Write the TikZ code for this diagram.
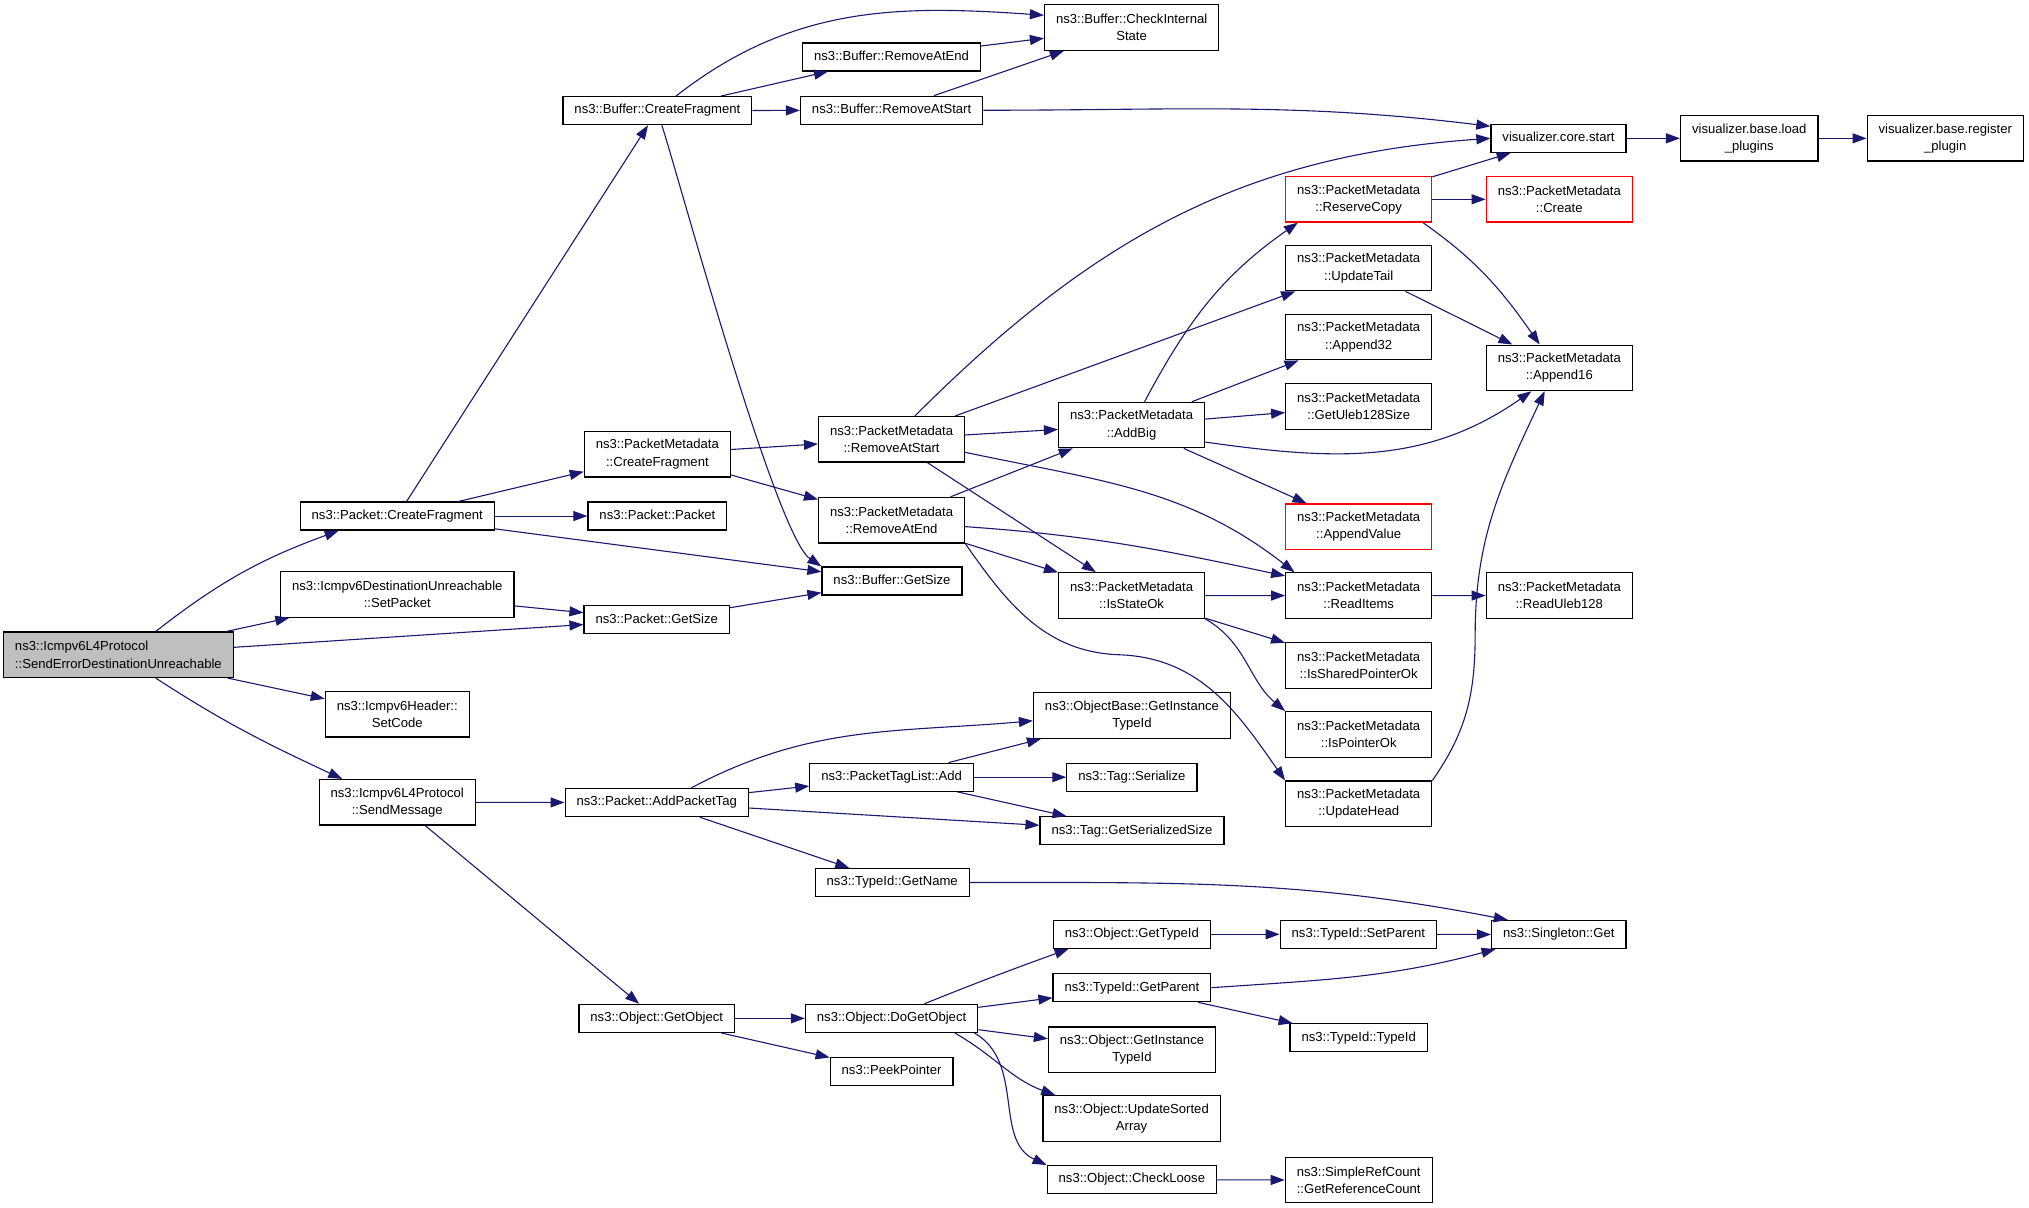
\documentclass[tikz,border=0pt]{standalone}
\usepackage{fontspec}
\setmainfont{Liberation Sans}
\usetikzlibrary{arrows.meta}
\definecolor{edgeblue}{HTML}{191970}
\definecolor{rootgray}{HTML}{BFBFBF}

\begin{document}
\begin{tikzpicture}[x=1.29401pt,y=1.29401pt,
	fnbox/.style={draw=black,line width=1.2pt,fill=white,inner xsep=11.5pt,inner ysep=0pt,font=\fontsize{13.1}{17.2}\selectfont,align=center},
	fnone/.style={fnbox,minimum height=28pt,text height=9.5pt,text depth=2.8pt},
	fntwo/.style={fnbox,minimum height=45.5pt},
	fnred/.style={fntwo,draw=red},
	fnroot/.style={fntwo,fill=rootgray,align=left},
	call/.style={edgeblue,line width=1.1pt,-{Triangle[length=14pt,width=10pt]}}]
	\useasboundingbox (0,0) rectangle (1568,-933.5);
	\fill[white] (0,0) rectangle (1568,-933.5);
	\node (root) at (91.5,-506)[fnroot] {ns3::Icmpv6L4Protocol\\::SendErrorDestinationUnreachable};
	\node (pktfrag) at (307,-398.8)[fnone] {ns3::Packet::CreateFragment};
	\node (setpkt) at (307,-459.4)[fntwo] {ns3::Icmpv6DestinationUnreachable\\::SetPacket};
	\node (setcode) at (307,-552)[fntwo] {ns3::Icmpv6Header::\\SetCode};
	\node (sendmsg) at (307,-620)[fntwo] {ns3::Icmpv6L4Protocol\\::SendMessage};
	\node (buffrag) at (508,-85.5)[fnone] {ns3::Buffer::CreateFragment};
	\node (pmfrag) at (508,-351)[fntwo] {ns3::PacketMetadata\\::CreateFragment};
	\node (pkt) at (508,-398.8)[fnone] {ns3::Packet::Packet};
	\node (pktsize) at (507.5,-479)[fnone] {ns3::Packet::GetSize};
	\node (addtag) at (507.5,-620.2)[fnone] {ns3::Packet::AddPacketTag};
	\node (getobj) at (507.5,-787)[fnone] {ns3::Object::GetObject};
	\node (bufrmend) at (689,-44)[fnone] {ns3::Buffer::RemoveAtEnd};
	\node (bufrmstart) at (689,-85.2)[fnone] {ns3::Buffer::RemoveAtStart};
	\node (pmrmstart) at (689,-339.5)[fntwo] {ns3::PacketMetadata\\::RemoveAtStart};
	\node (pmrmend) at (689,-402)[fntwo] {ns3::PacketMetadata\\::RemoveAtEnd};
	\node (bufsize) at (689.3,-449)[fnone] {ns3::Buffer::GetSize};
	\node (taglistadd) at (689,-600.6)[fnone] {ns3::PacketTagList::Add};
	\node (getname) at (689.5,-682)[fnone] {ns3::TypeId::GetName};
	\node (dogetobj) at (689,-787)[fnone] {ns3::Object::DoGetObject};
	\node (peek) at (689,-828)[fnone] {ns3::PeekPointer};
	\node (bufcheck) at (874.5,-21.3)[fntwo] {ns3::Buffer::CheckInternal\\State};
	\node (addbig) at (874.5,-328.5)[fntwo] {ns3::PacketMetadata\\::AddBig};
	\node (stateok) at (874.5,-460.2)[fntwo] {ns3::PacketMetadata\\::IsStateOk};
	\node (basetid) at (874.8,-553)[fntwo] {ns3::ObjectBase::GetInstance\\TypeId};
	\node (tagser) at (874.7,-600.6)[fnone] {ns3::Tag::Serialize};
	\node (tagsize) at (874.8,-642)[fnone] {ns3::Tag::GetSerializedSize};
	\node (gettid) at (874.7,-722)[fnone] {ns3::Object::GetTypeId};
	\node (getparent) at (874.7,-763.3)[fnone] {ns3::TypeId::GetParent};
	\node (insttid) at (874.8,-811.2)[fntwo] {ns3::Object::GetInstance\\TypeId};
	\node (sorted) at (874.5,-864.3)[fntwo] {ns3::Object::UpdateSorted\\Array};
	\node (loose) at (874.7,-911.6)[fnone] {ns3::Object::CheckLoose};
	\node (reserve) at (1050,-154)[fnred] {ns3::PacketMetadata\\::ReserveCopy};
	\node (updtail) at (1050,-207.2)[fntwo] {ns3::PacketMetadata\\::UpdateTail};
	\node (app32) at (1050,-260.5)[fntwo] {ns3::PacketMetadata\\::Append32};
	\node (uleb) at (1050,-314.2)[fntwo] {ns3::PacketMetadata\\::GetUleb128Size};
	\node (appval) at (1050,-407)[fnred] {ns3::PacketMetadata\\::AppendValue};
	\node (readitems) at (1050,-460.3)[fntwo] {ns3::PacketMetadata\\::ReadItems};
	\node (sharedok) at (1050,-514.2)[fntwo] {ns3::PacketMetadata\\::IsSharedPointerOk};
	\node (ptrok) at (1050,-567.5)[fntwo] {ns3::PacketMetadata\\::IsPointerOk};
	\node (updhead) at (1050,-621.2)[fntwo] {ns3::PacketMetadata\\::UpdateHead};
	\node (setparent) at (1049.7,-722)[fnone] {ns3::TypeId::SetParent};
	\node (tidtid) at (1050,-802)[fnone] {ns3::TypeId::TypeId};
	\node (refcount) at (1050,-912)[fntwo] {ns3::SimpleRefCount\\::GetReferenceCount};
	\node (vizstart) at (1204.4,-106.9)[fnone] {visualizer.core.start};
	\node (pmcreate) at (1205,-154)[fnred] {ns3::PacketMetadata\\::Create};
	\node (app16) at (1205,-284.3)[fntwo] {ns3::PacketMetadata\\::Append16};
	\node (readuleb) at (1205,-460.2)[fntwo] {ns3::PacketMetadata\\::ReadUleb128};
	\node (singleton) at (1204.6,-722.2)[fnone] {ns3::Singleton::Get};
	\node (loadplug) at (1351.8,-106.9)[fntwo] {visualizer.base.load\\\_plugins};
	\node (regplug) at (1503.3,-106.9)[fntwo] {visualizer.base.register\\\_plugin};
	\draw[call] (root.32) to[out=38,in=200] (pktfrag.194);
	\draw[call] (root)--(setpkt);
	\draw[call] (root)--(pktsize);
	\draw[call] (root)--(setcode);
	\draw[call] (root.-32) to[out=-33,in=155] (sendmsg.157);
	\draw[call] (pktfrag)--(buffrag);
	\draw[call] (pktfrag)--(pmfrag);
	\draw[call] (pktfrag)--(pkt);
	\draw[call] (pktfrag)--(bufsize);
	\draw[call] (setpkt)--(pktsize);
	\draw[call] (pktsize)--(bufsize);
	\draw[call] (buffrag.38) to[out=38,in=176] (bufcheck.172);
	\draw[call] (buffrag)--(bufrmend);
	\draw[call] (buffrag)--(bufrmstart);
	\draw[call] (buffrag.-73) to[out=-72,in=146,looseness=0.3] (bufsize.north west);
	\draw[call] (bufrmend)--(bufcheck);
	\draw[call] (bufrmstart)--(bufcheck);
	\draw[call] (bufrmstart.east) to[out=0,in=173] (vizstart.170);
	\draw[call] (pmfrag)--(pmrmstart);
	\draw[call] (pmfrag)--(pmrmend);
	\draw[call] (pmrmstart.45) to[out=45,in=184] (vizstart.west);
	\draw[call] (pmrmstart)--(updtail);
	\draw[call] (pmrmstart)--(addbig);
	\draw[call] (pmrmstart)--(stateok);
	\draw[call] (pmrmstart.-10) to[out=-12,in=142] (readitems.160);
	\draw[call] (pmrmend)--(addbig);
	\draw[call] (pmrmend)--(stateok);
	\draw[call] (pmrmend.-5) to[out=-4,in=168] (readitems.165);
	\draw[call] (pmrmend.south east) to[out=-55,in=178] (865,-506) to[out=-2,in=125] (updhead.north west);
	\draw[call] (addbig.61) to[out=62,in=215] (reserve.201);
	\draw[call] (addbig)--(app32);
	\draw[call] (addbig)--(uleb);
	\draw[call] (addbig)--(appval);
	\draw[call] (addbig.-13) to[out=-8,in=215] (app16.220);
	\draw[call] (stateok)--(readitems);
	\draw[call] (stateok)--(sharedok);
	\draw[call] (stateok.south east) to[out=-30,in=140] (ptrok.north west);
	\draw[call] (reserve)--(vizstart);
	\draw[call] (reserve)--(pmcreate);
	\draw[call] (reserve.-20) to[out=-35,in=125] (app16.130);
	\draw[call] (updtail)--(app16);
	\draw[call] (readitems)--(readuleb);
	\draw[call] (updhead.north east) to[out=55,in=-90] (1140,-490) to[out=90,in=245] (app16.238);
	\draw[call] (vizstart)--(loadplug);
	\draw[call] (loadplug)--(regplug);
	\draw[call] (sendmsg)--(addtag);
	\draw[call] (sendmsg)--(getobj);
	\draw[call] (addtag.23) to[out=28,in=185] (basetid.183);
	\draw[call] (addtag)--(taglistadd);
	\draw[call] (addtag)--(tagsize);
	\draw[call] (addtag)--(getname);
	\draw[call] (taglistadd)--(basetid);
	\draw[call] (taglistadd)--(tagser);
	\draw[call] (taglistadd)--(tagsize);
	\draw[call] (getname.east) to[out=0,in=169] (singleton.164);
	\draw[call] (getobj)--(dogetobj);
	\draw[call] (getobj)--(peek);
	\draw[call] (dogetobj.24) to[out=22,in=200] (gettid.193);
	\draw[call] (dogetobj)--(getparent);
	\draw[call] (dogetobj)--(insttid);
	\draw[call] (dogetobj.-13) to[out=-30,in=160] (sorted.163);
	\draw[call] (dogetobj.-10) to[out=-30,in=155] (loose.north west);
	\draw[call] (gettid)--(setparent);
	\draw[call] (setparent)--(singleton);
	\draw[call] (getparent.east) to[out=4,in=195] (singleton.193);
	\draw[call] (getparent)--(tidtid);
	\draw[call] (loose)--(refcount);
\end{tikzpicture}
\end{document}
